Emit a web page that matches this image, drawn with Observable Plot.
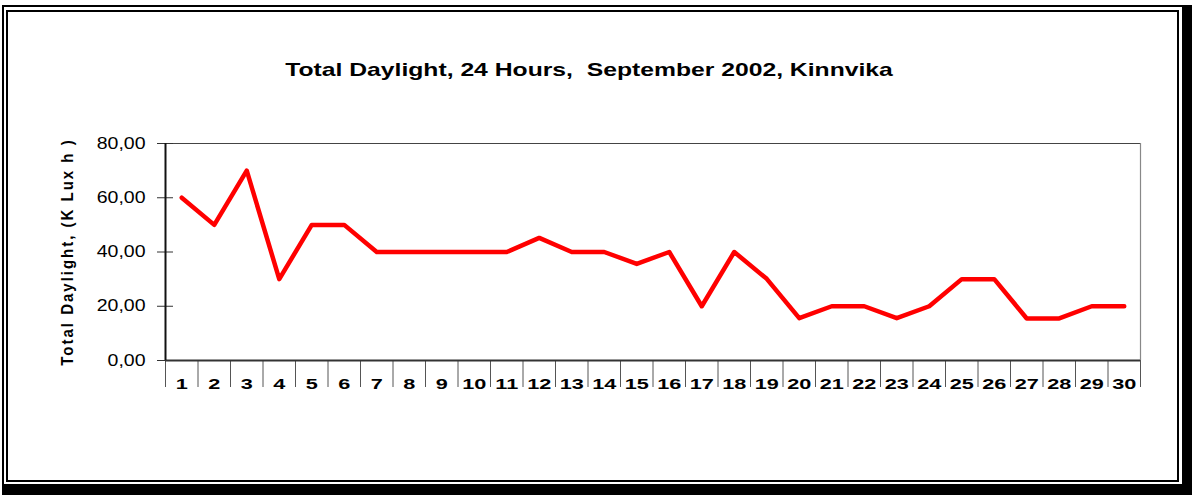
<!DOCTYPE html>
<html>
<head>
<meta charset="utf-8">
<script src="https://cdn.jsdelivr.net/npm/d3@7"></script>
<script src="https://cdn.jsdelivr.net/npm/@observablehq/plot@0.6"></script>
<style>
  html, body { margin: 0; padding: 0; background: #fff; }
  #wrap { position: relative; width: 1192px; height: 495px; overflow: hidden; background: #fff; font-family: "Liberation Sans", Arial, sans-serif; }
  #chart { position: absolute; left: 0; top: 0; }
  #title { position: absolute; left: 0; top: 60px; width: 1178px; text-align: center; font-size: 19px; line-height: 19px; font-weight: bold; white-space: pre; color: #000; transform: scaleX(1.3); transform-origin: 589px 0; }
  #outer { position: absolute; left: 2px; top: 5px; width: 1190px; height: 490px; box-sizing: border-box; border-left: 2px solid #000; border-top: 2px solid #000; border-right: 10px solid #000; border-bottom: 11px solid #000; }
  #inner { position: absolute; left: 6px; top: 10px; width: 1173px; height: 472px; box-sizing: border-box; border: 2px solid #000; }
</style>
</head>
<body>
<div id="wrap">
  <div id="chart"></div>
  <div id="title"></div>
  <div id="outer"></div>
  <div id="inner"></div>
</div>
<script>
const titleText = "Total Daylight, 24 Hours,  September 2002, Kinnvika";
const yTitle = "Total Daylight, (K Lux h )";
const days = [1,2,3,4,5,6,7,8,9,10,11,12,13,14,15,16,17,18,19,20,21,22,23,24,25,26,27,28,29,30];
const daylight = [60,50,70,30,50,50,40,40,40,40,40,45.2,40,40,35.6,40,20,40,30.1,15.6,20,20,15.6,20,30,30,15.5,15.5,20,20];
const yTicks = [0,20,40,60,80];

const data = days.map((d, i) => ({day: d, value: daylight[i]}));
const boundaries = days.map(d => d - 0.5).concat([days[days.length - 1] + 0.5]);
const fmt = v => v.toFixed(2).replace(".", ",");

document.getElementById("title").textContent = titleText;

const chart = Plot.plot({
  width: 1192,
  height: 495,
  marginTop: 143,
  marginBottom: 135,
  marginLeft: 165,
  marginRight: 52,
  x: {type: "linear", domain: [0.5, 30.5], label: null},
  y: {domain: [0, 80], label: null},
  style: {background: "none", fontFamily: "'Liberation Sans', Arial, sans-serif", overflow: "visible", color: "#000"},
  marks: [
    Plot.ruleY([80], {stroke: "#444", strokeWidth: 1}),
    Plot.ruleX([30.5], {stroke: "#888", strokeWidth: 1.2}),
    Plot.axisY({ticks: yTicks, tickSize: 8, tickPadding: 12, tickFormat: fmt, fontSize: 16, stroke: "#333", label: null}),
    Plot.axisY({ticks: yTicks, tickSize: -8, tickFormat: () => "", stroke: "#333", label: null}),
    Plot.axisX({ticks: boundaries, tickSize: 27, tickFormat: () => "", stroke: "#555", label: null}),
    Plot.axisX({ticks: days, tickSize: 0, tickPadding: 17, tickFormat: d => String(d), fontSize: 15.5, fontWeight: "bold", label: null}),
    Plot.ruleY([0], {stroke: "#333", strokeWidth: 2}),
    Plot.ruleX([0.5], {stroke: "#111", strokeWidth: 2}),
    Plot.line(data, {x: "day", y: "value", stroke: "#ff0000", strokeWidth: 4.5, strokeLinejoin: "round", strokeLinecap: "round"}),
    Plot.text([yTitle], {text: d => d, frameAnchor: "left", textAnchor: "middle", lineAnchor: "middle", dx: -98, rotate: -90, fontWeight: "bold", fontSize: 15})
  ]
});
document.getElementById("chart").appendChild(chart);

const svg = d3.select(chart);
svg.selectAll('g[aria-label="x-axis tick label"] text').each(function() {
  this.setAttribute("transform", (this.getAttribute("transform") || "") + " scale(1.4,1)");
});
svg.selectAll('g[aria-label="y-axis tick label"] text').each(function() {
  this.setAttribute("transform", (this.getAttribute("transform") || "") + " scale(1.22,1)");
});
svg.selectAll("text").filter(function() { return this.textContent === yTitle; }).each(function() {
  this.setAttribute("transform", (this.getAttribute("transform") || "") + " scale(1,1.1)");
  this.setAttribute("letter-spacing", "2px");
});
</script>
</body>
</html>
